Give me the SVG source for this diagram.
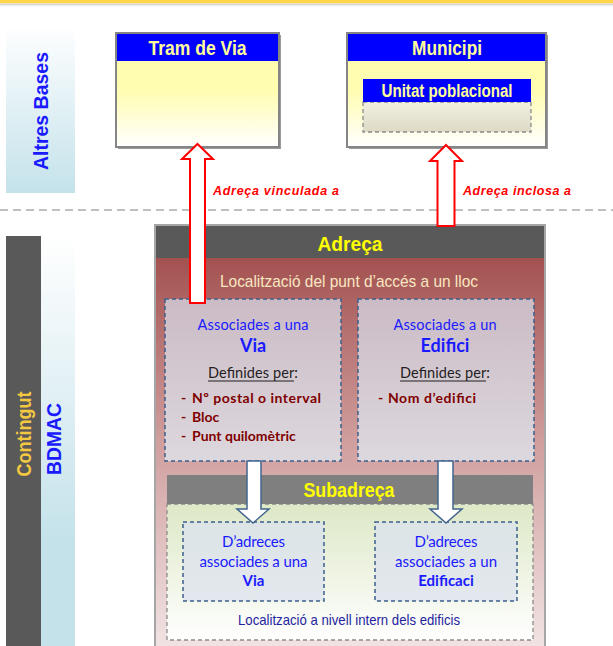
<svg xmlns="http://www.w3.org/2000/svg" width="613" height="646" viewBox="0 0 613 646">
<defs>
<linearGradient id="gBlue" x1="0" y1="0" x2="0" y2="1"><stop offset="0" stop-color="#fdfeff"/><stop offset="1" stop-color="#c4e2ea"/></linearGradient>
<linearGradient id="gBlue2" x1="0" y1="0" x2="0" y2="1"><stop offset="0" stop-color="#ffffff"/><stop offset="0.75" stop-color="#c4e2ea"/><stop offset="1" stop-color="#c4e2ea"/></linearGradient>
<linearGradient id="gYel" x1="0" y1="0" x2="0" y2="1"><stop offset="0" stop-color="#fffdb0"/><stop offset="0.5" stop-color="#fffdb0"/><stop offset="1" stop-color="#ffffff"/></linearGradient>
<linearGradient id="gGrey" x1="0" y1="0" x2="0" y2="1"><stop offset="0" stop-color="#f1efdf"/><stop offset="1" stop-color="#dcd9c6"/></linearGradient>
<linearGradient id="gRed" x1="0" y1="0" x2="0" y2="1"><stop offset="0" stop-color="#9b4442"/><stop offset="0.5" stop-color="#cf9e9d"/><stop offset="1" stop-color="#f3e6e6"/></linearGradient>
<linearGradient id="gMauve" x1="0" y1="0" x2="0" y2="1"><stop offset="0" stop-color="#cbbbc5"/><stop offset="1" stop-color="#ddd8de"/></linearGradient>
<linearGradient id="gGreen" x1="0" y1="0" x2="0" y2="1"><stop offset="0" stop-color="#dde8c6"/><stop offset="1" stop-color="#ffffff"/></linearGradient>
<linearGradient id="gBox" x1="0" y1="0" x2="0" y2="1"><stop offset="0" stop-color="#dce4e6"/><stop offset="1" stop-color="#e3e8ee"/></linearGradient>
</defs>
<style>
.t{font-family:"Liberation Sans",Arial,sans-serif}
.n{font-family:"Liberation Sans Narrow","Liberation Sans",Arial,sans-serif}
.c{font-family:Lato,"Liberation Sans",sans-serif}
.hdr{font-weight:bold;fill:#ffff99;text-anchor:middle}
.bx{stroke:#858585;stroke-width:2}
.dsh{fill:none;stroke:#3d5f8c;stroke-width:1.5;stroke-dasharray:4 3}
.blu{fill:#1a1aff;text-anchor:middle}
.bul{fill:#7f0000;font-weight:bold;font-size:14px}
.redarr{fill:#ffffff;stroke:#ff0000;stroke-width:2}
.wharr{fill:#ffffff;stroke:#41648f;stroke-width:1.5}
</style>
<rect x="0" y="0" width="613" height="3.5" fill="#ffd54a"/>
<rect x="0" y="3.5" width="613" height="2" fill="#d9d9d9"/>
<line x1="0" y1="210" x2="613" y2="210" stroke="#c0c0c0" stroke-width="2" stroke-dasharray="8 5"/>

<g id="band-altres">
<rect x="6" y="29" width="69" height="164" fill="url(#gBlue)"/>
<text class="t" transform="translate(48,111) rotate(-90)" text-anchor="middle" font-size="20" font-weight="bold" fill="#1a1aff" textLength="118" lengthAdjust="spacingAndGlyphs">Altres Bases</text>
</g>

<g id="band-contingut">
<rect x="41" y="236" width="34" height="410" fill="url(#gBlue2)"/>
<rect x="6" y="236" width="35" height="410" fill="#595959"/>
<text class="t" transform="translate(31,434) rotate(-90)" text-anchor="middle" font-size="20" font-weight="bold" fill="#f5c842" textLength="85" lengthAdjust="spacingAndGlyphs">Contingut</text>
<text class="t" transform="translate(61,439) rotate(-90)" text-anchor="middle" font-size="20" font-weight="bold" fill="#1a1aff" textLength="72" lengthAdjust="spacingAndGlyphs">BDMAC</text>
</g>

<g id="tram-de-via">
<rect x="118" y="35" width="163" height="114" fill="#9a9a9a"/>
<rect x="116" y="33" width="163" height="114" class="bx" fill="url(#gYel)"/>
<rect x="117" y="34" width="161" height="27" fill="#0000ff"/>
<text class="n hdr" x="197.5" y="55" font-size="20" textLength="98" lengthAdjust="spacingAndGlyphs">Tram de Via</text>
</g>

<g id="municipi">
<rect x="349" y="35" width="199" height="114" fill="#9a9a9a"/>
<rect x="347" y="33" width="199" height="114" class="bx" fill="url(#gYel)"/>
<rect x="348" y="34" width="197" height="27" fill="#0000ff"/>
<text class="n hdr" x="447" y="55" font-size="20" textLength="70" lengthAdjust="spacingAndGlyphs">Municipi</text>
<g id="unitat-poblacional">
<rect x="363" y="102" width="168" height="30" fill="url(#gGrey)" stroke="#8a8a8a" stroke-width="1.3" stroke-dasharray="4 3"/>
<rect x="363" y="79" width="168" height="23" fill="#0000ff"/>
<text class="n hdr" x="447" y="97" font-size="18" textLength="131" lengthAdjust="spacingAndGlyphs">Unitat poblacional</text>
</g>
</g>

<g id="adreca">
<rect x="155" y="225" width="390" height="430" fill="url(#gRed)" stroke="#a6a6a6" stroke-width="2"/>
<rect x="156" y="226" width="388" height="32" fill="#595959"/>
<text class="t" x="350" y="251" text-anchor="middle" font-size="21" font-weight="bold" fill="#ffff00" textLength="65" lengthAdjust="spacingAndGlyphs">Adreça</text>
<text class="n" x="349" y="287" text-anchor="middle" font-size="17" fill="#f8e7c2" textLength="258" lengthAdjust="spacingAndGlyphs">Localització del punt d’accés a un lloc</text>
</g>

<g id="associades-via">
<rect x="165" y="299" width="176" height="162" fill="url(#gMauve)"/>
<rect x="165" y="299" width="176" height="162" class="dsh"/>
<text class="c blu" x="253" y="330" font-size="14.5" textLength="111">Associades a una</text>
<text class="c blu" x="253" y="352" font-size="18" font-weight="bold">Via</text>
<text class="c" x="253" y="378" font-size="14.5" fill="#1e1e1e" text-anchor="middle" textLength="90">Definides per:</text>
<line x1="208" y1="381" x2="294" y2="381" stroke="#1e1e1e" stroke-width="1"/>
<text class="c bul" x="181" y="403">-</text>
<text class="c bul" x="192" y="403" textLength="129">Nº postal o interval</text>
<text class="c bul" x="181" y="422">-</text>
<text class="c bul" x="192" y="422">Bloc</text>
<text class="c bul" x="181" y="441">-</text>
<text class="c bul" x="192" y="441">Punt quilomètric</text>
</g>

<g id="associades-edifici">
<rect x="358" y="299" width="176" height="162" fill="url(#gMauve)"/>
<rect x="358" y="299" width="176" height="162" class="dsh"/>
<text class="c blu" x="445" y="330" font-size="14.5" textLength="103">Associades a un</text>
<text class="c blu" x="445" y="352" font-size="18" font-weight="bold">Edifici</text>
<text class="c" x="445" y="378" font-size="14.5" fill="#1e1e1e" text-anchor="middle" textLength="90">Definides per:</text>
<line x1="400" y1="381" x2="486" y2="381" stroke="#1e1e1e" stroke-width="1"/>
<text class="c bul" x="378" y="403">-</text>
<text class="c bul" x="388" y="403" textLength="88">Nom d’edifici</text>
</g>

<g id="subadreca">
<rect x="167" y="504" width="366" height="136" fill="url(#gGreen)" stroke="#8c8c8c" stroke-width="1.3" stroke-dasharray="4 3"/>
<rect x="167" y="475" width="366" height="29" fill="#7f7f7f"/>
<text class="t" x="349" y="497" text-anchor="middle" font-size="20" font-weight="bold" fill="#ffff00" textLength="91" lengthAdjust="spacingAndGlyphs">Subadreça</text>
<text class="n" x="349" y="625" text-anchor="middle" font-size="15" fill="#1f1fa0" textLength="222" lengthAdjust="spacingAndGlyphs">Localització a nivell intern dels edificis</text>
</g>

<g id="subadreca-via">
<rect x="183" y="522" width="141" height="79" fill="url(#gBox)"/>
<rect x="183" y="522" width="141" height="79" class="dsh"/>
<text class="c blu" x="253.5" y="547" font-size="15" textLength="63">D’adreces</text>
<text class="c blu" x="253.5" y="567" font-size="15" textLength="108">associades a una</text>
<text class="c blu" x="253.5" y="586" font-size="15" font-weight="bold">Via</text>
</g>

<g id="subadreca-edifici">
<rect x="375" y="522" width="142" height="79" fill="url(#gBox)"/>
<rect x="375" y="522" width="142" height="79" class="dsh"/>
<text class="c blu" x="446" y="547" font-size="15" textLength="63">D’adreces</text>
<text class="c blu" x="446" y="567" font-size="15" textLength="102">associades a un</text>
<text class="c blu" x="446" y="586" font-size="15" font-weight="bold">Edificaci</text>
</g>

<g id="connectors">
<polygon class="redarr" points="197.5,144 213,159 205,159 205,303 190,303 190,159 182,159"/>
<polygon class="redarr" points="446,145 462,161 454.5,161 454.5,226 437.5,226 437.5,161 430,161"/>
<text class="t" x="213" y="195" font-size="12.5" font-weight="bold" font-style="italic" fill="#ff0000" textLength="126">Adreça vinculada a</text>
<text class="t" x="463" y="195" font-size="12.5" font-weight="bold" font-style="italic" fill="#ff0000" textLength="108">Adreça inclosa a</text>
<polygon class="wharr" points="247,461 261,461 261,509 269,509 253,523 237,509 247,509"/>
<polygon class="wharr" points="438,461 453,461 453,509 462,509 446,523 430,509 438,509"/>
</g>
</svg>
